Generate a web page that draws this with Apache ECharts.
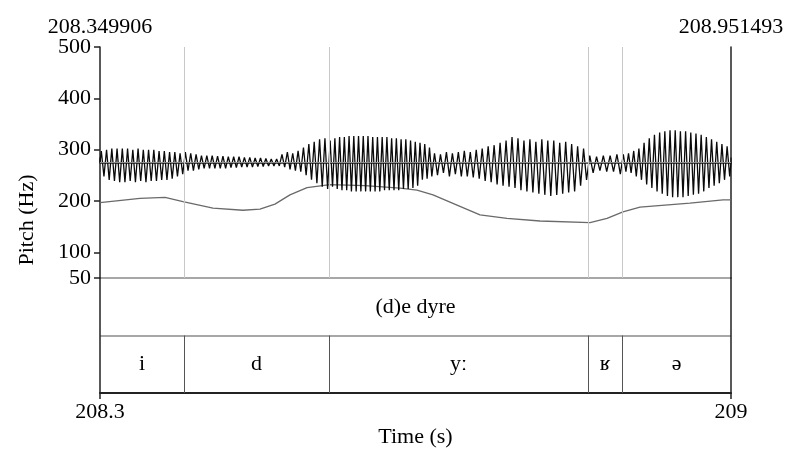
<!DOCTYPE html>
<html>
<head>
<meta charset="utf-8">
<script src="https://cdn.jsdelivr.net/npm/echarts@6/dist/echarts.min.js"></script>
<style>
  html, body { margin: 0; padding: 0; background: #fff; }
  #chart { width: 789px; height: 450px; }
</style>
</head>
<body>
<div id="chart"></div>
<script>
// Selection window (s)
const timeStart = 208.349906;
const timeEnd = 208.951493;
// Bottom time marks (s)
const timeMarks = [208.3, 209];
// Pitch axis marks (Hz)
const pitchMarks = [50, 100, 200, 300, 400, 500];

// Interval tiers
const wordText = '(d)e dyre';
const phoneLabels = ['i', 'd', 'yː', 'ʁ', 'ə'];
const phoneBounds = [208.4300, 208.5682, 208.8152, 208.8476];

// Pitch contour: time (s) and F0 (Hz)
const pitchTimes = [208.3499, 208.3880, 208.4119, 208.4290, 208.4576, 208.4862, 208.5024, 208.5167,
  208.5310, 208.5473, 208.5692, 208.6026, 208.6359, 208.6521, 208.6674, 208.6903, 208.7122, 208.7379,
  208.7694, 208.8171, 208.8333, 208.8485, 208.8647, 208.9124, 208.9439, 208.9515];
const pitchHz = [197, 205, 207, 199, 186, 182, 184, 194,
  212, 226, 232, 230, 225, 221, 212, 192, 173, 166,
  161, 158, 166, 179, 188, 196, 202, 202];

// Waveform: per glottal cycle, positive and negative peak (Pa), grouped by stretch
const waveSpans = [208.349906, 208.4300, 208.5682, 208.6674, 208.8152, 208.8476, 208.951493];
const waveI = [[0.10,0.12],[0.11,0.15],[0.12,0.16],[0.12,0.17],[0.12,0.17],[0.12,0.16],[0.11,0.17],[0.12,0.16],
  [0.11,0.17],[0.11,0.16],[0.11,0.16],[0.10,0.15],[0.10,0.15],[0.09,0.14],[0.09,0.12],[0.08,0.10]];
const waveD = [[0.09,0.07],[0.08,0.07],[0.07,0.06],
  [0.06,0.05],[0.06,0.05],[0.06,0.05],[0.055,0.05],[0.055,0.05],[0.05,0.045],[0.05,0.045],[0.05,0.04],
  [0.045,0.04],[0.045,0.04],[0.04,0.035],[0.04,0.035],[0.035,0.03],[0.03,0.03],[0.03,0.03],
  [0.07,0.04],[0.09,0.06],[0.08,0.07],[0.10,0.08],
  [0.13,0.11],[0.16,0.15],[0.18,0.18],[0.20,0.21],[0.21,0.23]];
const waveY1 = [[0.19,0.21],[0.21,0.23],[0.22,0.24],[0.22,0.24],[0.23,0.25],[0.23,0.25],[0.23,0.25],[0.23,0.25],
  [0.23,0.25],[0.22,0.25],[0.22,0.25],[0.22,0.24],[0.22,0.24],[0.21,0.24],[0.21,0.24],[0.20,0.23],
  [0.20,0.23],[0.19,0.22],[0.18,0.20],[0.17,0.15],[0.16,0.14],[0.13,0.12]];
const waveY2 = [[0.08,0.11],[0.07,0.09],[0.09,0.12],[0.08,0.10],[0.09,0.12],[0.10,0.12],[0.09,0.13],[0.11,0.14],
  [0.12,0.16],[0.14,0.17],[0.15,0.19],[0.17,0.20],[0.19,0.21],[0.22,0.22],
  [0.21,0.24],[0.19,0.25],[0.20,0.26],[0.18,0.27],[0.20,0.28],[0.19,0.29],[0.19,0.28],[0.17,0.27],
  [0.18,0.26],[0.16,0.25],[0.14,0.20],[0.12,0.15]];
const waveR = [[0.06,0.09],[0.05,0.07],[0.06,0.08],[0.06,0.08],[0.07,0.10]];
const waveSchwa = [[0.07,0.08],[0.08,0.09],[0.10,0.12],[0.12,0.15],[0.17,0.19],[0.21,0.22],[0.24,0.25],
  [0.26,0.27],[0.27,0.29],[0.28,0.30],[0.28,0.30],[0.27,0.30],[0.27,0.29],[0.26,0.28],[0.25,0.27],
  [0.24,0.25],[0.22,0.22],[0.20,0.20],[0.18,0.18],[0.16,0.15],[0.14,0.12]];

const FONT = "'Liberation Serif', 'DejaVu Serif', serif";
const INK = '#000';
const FS = 22;

// Build the oscillogram polyline: one positive and one negative peak per cycle
const waveChunks = [waveI, waveD, waveY1, waveY2, waveR, waveSchwa];
const waveData = [[waveSpans[0], 0]];
waveChunks.forEach((cycles, c) => {
  const t0 = waveSpans[c];
  const step = (waveSpans[c + 1] - t0) / cycles.length;
  cycles.forEach(([up, down], k) => {
    waveData.push([t0 + (k + 0.25) * step, up]);
    waveData.push([t0 + (k + 0.75) * step, -down]);
  });
});
waveData.push([waveSpans[waveSpans.length - 1], 0]);

const pitchData = pitchTimes.map((t, i) => [t, pitchHz[i]]);

// Tier label positions: centre of each interval
const edges = [timeStart, ...phoneBounds, timeEnd];
const tierLabels = [{ value: [(timeStart + timeEnd) / 2, 1.5], name: wordText }]
  .concat(phoneLabels.map((p, i) => ({ value: [(edges[i] + edges[i + 1]) / 2, 0.5], name: p })));

const chart = echarts.init(document.getElementById('chart'), null, { renderer: 'canvas' });
chart.setOption({
  animation: false,
  backgroundColor: '#fff',
  textStyle: { fontFamily: FONT },
  grid: [
    { left: 100, top: 47, width: 631, height: 231, outerBoundsMode: 'none', containLabel: false },
    { left: 100, top: 278, width: 631, height: 115, outerBoundsMode: 'none', containLabel: false }
  ],
  xAxis: [
    {
      gridIndex: 0, type: 'value', position: 'top', min: timeStart, max: timeEnd,
      axisLine: { show: true, lineStyle: { color: '#222', width: 1.5 } },
      axisTick: { show: true, length: 5, customValues: [timeStart, timeEnd], lineStyle: { color: '#222', width: 1.5 } },
      axisLabel: { show: true, customValues: [timeStart, timeEnd], formatter: v => v.toFixed(6),
        fontFamily: FONT, fontSize: FS, color: INK, margin: 9 },
      splitLine: { show: false }
    },
    {
      gridIndex: 1, type: 'value', position: 'bottom', min: timeMarks[0], max: timeMarks[1],
      axisLine: { show: true, lineStyle: { color: '#222', width: 2 } },
      axisTick: { show: true, length: 6, customValues: timeMarks, lineStyle: { color: '#222', width: 1.5 } },
      axisLabel: { show: true, customValues: timeMarks, formatter: v => String(+v.toFixed(1)),
        fontFamily: FONT, fontSize: FS, color: INK, margin: 8 },
      splitLine: { show: false },
      name: 'Time (s)', nameLocation: 'middle', nameGap: 33,
      nameTextStyle: { fontFamily: FONT, fontSize: FS, color: INK }
    },
    { gridIndex: 1, type: 'value', show: false, min: timeStart, max: timeEnd }
  ],
  yAxis: [
    {
      gridIndex: 0, type: 'value', min: 50, max: 500,
      axisLine: { show: true, lineStyle: { color: '#222', width: 1.5 } },
      axisTick: { show: true, length: 6, customValues: pitchMarks, lineStyle: { color: '#222', width: 1.5 } },
      axisLabel: { show: true, customValues: pitchMarks, fontFamily: FONT, fontSize: FS, color: INK, margin: 9 },
      splitLine: { show: false }
    },
    {
      gridIndex: 0, type: 'value', position: 'right', min: 50, max: 500,
      axisLine: { show: true, lineStyle: { color: '#222', width: 1.5 } },
      axisTick: { show: false }, axisLabel: { show: false }, splitLine: { show: false }
    },
    { gridIndex: 0, type: 'value', show: false, min: -1, max: 1 },
    {
      gridIndex: 1, type: 'value', min: 0, max: 2, interval: 1,
      axisLine: { show: true, lineStyle: { color: '#222', width: 1.5 } },
      axisTick: { show: false }, axisLabel: { show: false },
      splitLine: { show: true, lineStyle: { color: '#8a8a8a', width: 1.5 } }
    },
    {
      gridIndex: 1, type: 'value', position: 'right', min: 0, max: 2,
      axisLine: { show: true, lineStyle: { color: '#222', width: 1.5 } },
      axisTick: { show: false }, axisLabel: { show: false }, splitLine: { show: false }
    }
  ],
  graphic: [
    {
      type: 'text', x: 27, y: 220, rotation: Math.PI / 2,
      style: { text: 'Pitch (Hz)', font: FS + 'px ' + FONT, fill: INK, align: 'center', verticalAlign: 'middle' }
    }
  ],
  series: [
    {
      type: 'line', name: 'waveform', xAxisIndex: 0, yAxisIndex: 2, data: waveData,
      showSymbol: false, symbol: 'none', smooth: false, z: 3,
      lineStyle: { color: '#0a0a0a', width: 1.3 },
      markLine: {
        silent: true, symbol: 'none', label: { show: false },
        lineStyle: { color: '#8c8c8c', width: 1, type: 'solid' },
        data: [{ yAxis: 0 }]
      }
    },
    {
      type: 'line', name: 'pitch', xAxisIndex: 0, yAxisIndex: 0, data: pitchData,
      showSymbol: false, symbol: 'none', smooth: false, z: 2,
      lineStyle: { color: '#6a6a6a', width: 1.3 },
      markLine: {
        silent: true, symbol: 'none', label: { show: false },
        lineStyle: { color: '#c8c8c8', width: 1, type: 'solid' },
        data: phoneBounds.map(b => [{ coord: [b, 50] }, { coord: [b, 500] }])
      }
    },
    {
      type: 'scatter', name: 'tiers', xAxisIndex: 2, yAxisIndex: 3, data: tierLabels,
      symbolSize: 0, silent: true,
      itemStyle: { opacity: 1 },
      label: { show: true, position: 'inside', formatter: p => p.name, opacity: 1,
        fontFamily: FONT, fontSize: FS, color: INK },
      markLine: {
        silent: true, symbol: 'none', label: { show: false },
        lineStyle: { color: '#555', width: 1, type: 'solid' },
        data: phoneBounds.map(b => [{ coord: [b, 0] }, { coord: [b, 1] }])
      }
    }
  ]
});
</script>
</body>
</html>
